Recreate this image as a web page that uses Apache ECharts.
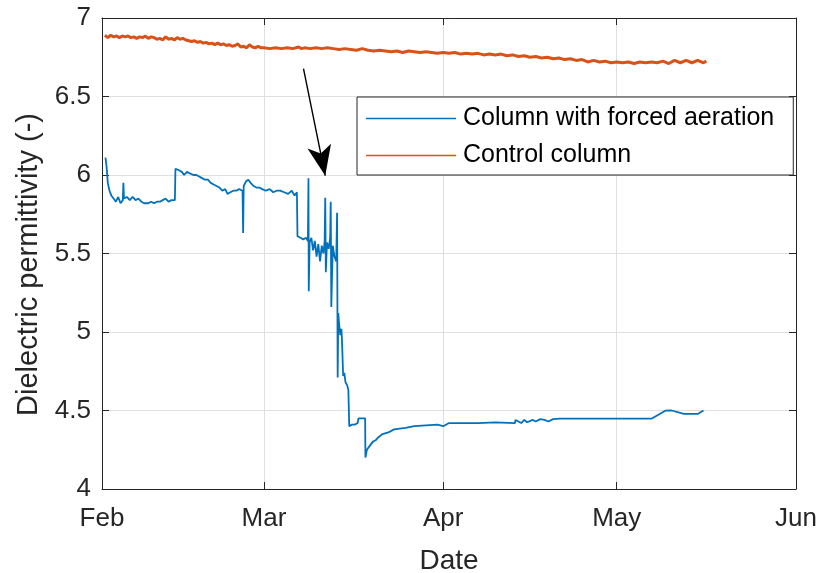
<!DOCTYPE html>
<html><head><meta charset="utf-8">
<script src="https://cdn.jsdelivr.net/npm/echarts@6/dist/echarts.min.js"></script>
<style>html,body{margin:0;padding:0;background:#fff}#c{width:821px;height:573px}</style>
</head><body><div id="c"></div>
<script>
// Days since 1 Feb (year with 28-day February)
const aeratedDays = [0.6,0.8,1.0,1.3,1.6,2.0,2.4,2.8,3.2,3.6,3.7,3.8,4.3,4.8,5.3,5.8,6.3,6.8,7.3,8.0,8.5,9.0,9.5,10.0,10.5,11.0,11.5,12.0,12.6,12.7,13.3,13.8,14.2,14.7,15.2,15.8,16.3,16.8,17.3,17.8,18.3,18.8,19.3,19.8,20.3,20.8,21.3,21.7,22.2,22.7,23.2,23.7,24.3,24.4,24.5,24.9,25.3,25.7,26.2,26.7,27.2,27.7,28.3,29.0,29.6,30.2,30.8,31.5,32.2,32.8,33.3,33.7,33.8,34.3,34.8,35.3,35.6,35.7,35.75,35.9,36.2,36.5,36.8,37.1,37.4,37.7,38.0,38.3,38.5,38.6,38.7,38.9,39.2,39.45,39.55,39.65,39.9,40.2,40.5,40.65,40.75,40.85,41.0,41.2,41.4,41.5,41.7,41.9,42.1,42.4,42.6,42.75,43.2,43.7,44.2,44.35,45.0,45.5,45.55,45.8,46.2,46.8,47.3,47.8,48.5,49.5,50.5,51.5,52.5,54,56,58,59,60,62,65,68,71.4,71.5,72.5,73,73.5,74.5,75,75.8,76.5,77.2,78,79.2,80,83,86,89,92,95,97.4,97.5,98.5,100.6,100.7,103,104,104.5];
const aeratedVals = [6.11,6.05,5.95,5.90,5.87,5.85,5.83,5.86,5.82,5.84,5.95,5.85,5.86,5.84,5.86,5.84,5.85,5.83,5.82,5.82,5.83,5.82,5.83,5.83,5.84,5.85,5.83,5.84,5.84,6.04,6.03,6.02,6.00,6.02,6.01,6.00,6.00,5.99,5.98,5.97,5.97,5.95,5.94,5.93,5.92,5.90,5.91,5.88,5.89,5.90,5.90,5.91,5.90,5.63,5.93,5.96,5.97,5.95,5.93,5.92,5.92,5.91,5.90,5.91,5.89,5.90,5.90,5.89,5.88,5.90,5.87,5.89,5.61,5.60,5.59,5.60,5.58,5.98,5.26,5.57,5.60,5.52,5.58,5.48,5.56,5.45,5.55,5.50,5.58,5.855,5.38,5.57,5.53,5.60,5.83,5.16,5.55,5.48,5.45,5.76,4.71,5.12,5.05,4.98,5.02,4.94,4.72,4.74,4.68,4.66,4.63,4.40,4.41,4.41,4.42,4.45,4.45,4.45,4.20,4.25,4.27,4.30,4.31,4.33,4.35,4.36,4.38,4.385,4.39,4.40,4.405,4.41,4.40,4.42,4.42,4.42,4.425,4.42,4.44,4.42,4.44,4.425,4.44,4.43,4.445,4.44,4.43,4.445,4.448,4.448,4.448,4.448,4.448,4.448,4.448,4.499,4.50,4.50,4.478,4.478,4.478,4.50];
const controlDays = [0.5,1,1.5,2,2.5,3,3.5,4,4.5,5,5.5,6,6.5,7,7.5,8,8.5,9,9.5,10,10.5,11,11.5,12,12.5,13,13.5,14,14.5,15,15.5,16,16.5,17,17.5,18,18.5,19,19.5,20,20.5,21,21.5,22,22.5,23,23.5,24,24.5,25,25.5,26,26.5,27,27.5,28,29,30,31,32,33,34,34.5,35,36,37,38,39,40,41,42,43,44,45,46,47,48,49,50,51,52,53,54,55,56,57,58,59,60,61,62,63,64,65,66,67,68,69,70,71,72,73,74,75,76,77,78,79,80,81,82,83,84,85,86,87,88,89,90,91,92,93,94,95,96,97,98,99,100,101,102,103,104,104.5];
const controlVals = [6.89,6.875,6.89,6.88,6.885,6.875,6.885,6.88,6.885,6.875,6.88,6.87,6.88,6.875,6.885,6.87,6.88,6.875,6.865,6.87,6.86,6.88,6.865,6.87,6.86,6.875,6.865,6.87,6.86,6.855,6.85,6.855,6.845,6.85,6.84,6.845,6.835,6.84,6.83,6.84,6.83,6.835,6.825,6.83,6.82,6.825,6.835,6.815,6.82,6.81,6.83,6.815,6.81,6.82,6.81,6.81,6.805,6.81,6.805,6.81,6.805,6.815,6.805,6.81,6.805,6.81,6.805,6.81,6.805,6.80,6.805,6.80,6.795,6.805,6.795,6.79,6.795,6.79,6.785,6.79,6.78,6.79,6.785,6.78,6.785,6.78,6.775,6.78,6.775,6.78,6.77,6.775,6.77,6.775,6.765,6.77,6.765,6.77,6.76,6.765,6.755,6.76,6.75,6.755,6.745,6.75,6.74,6.745,6.735,6.74,6.73,6.735,6.72,6.73,6.72,6.725,6.715,6.72,6.715,6.72,6.71,6.72,6.715,6.72,6.715,6.725,6.71,6.73,6.715,6.73,6.715,6.73,6.715,6.725];
const monthNames = ['Jan','Feb','Mar','Apr','May','Jun','Jul','Aug','Sep','Oct','Nov','Dec'];
const yTicks = {min: 4, max: 7, step: 0.5};
const seriesNames = ['Column with forced aeration', 'Control column'];
// annotation arrow: [day, value] of tail and tip
const arrowPts = [[34.84, 6.677], [38.6, 5.996]];

const DAY = 86400000;
const t0 = new Date(2021, 1, 1).getTime();
const tEnd = new Date(2021, 5, 1).getTime();
const toT = d => t0 + d * DAY;
const blue = aeratedDays.map((d, i) => [toT(d), aeratedVals[i]]);
const orange = controlDays.map((d, i) => [toT(d), controlVals[i]]);

const axisCol = '#262626';
const font = 'Liberation Sans, Arial, Helvetica, sans-serif';
const chart = echarts.init(document.getElementById('c'), null, {renderer: 'canvas'});
const xBase = {
  type: 'time', min: t0, max: tEnd,
  minInterval: 28 * DAY, maxInterval: 31 * DAY,
};
chart.setOption({
  animation: false,
  backgroundColor: '#fff',
  grid: {left: 102, right: 25, top: 18, bottom: 84, containLabel: false, outerBoundsMode: 'none'},
  legend: {
    orient: 'vertical', left: 357, top: 97,
    icon: 'rect', itemWidth: 90, itemHeight: 1.5, itemGap: 12,
    padding: [9, 19, 7, 9],
    borderColor: axisCol, borderWidth: 1, backgroundColor: '#fff',
    textStyle: {fontFamily: font, fontSize: 25, color: '#000', padding: [0, 0, 0, 2], lineHeight: 25},
    data: seriesNames,
  },
  xAxis: [
    Object.assign({}, xBase, {
      position: 'bottom',
      name: 'Date', nameLocation: 'middle', nameGap: 58,
      nameTextStyle: {fontFamily: font, fontSize: 28, color: axisCol},
      axisLine: {lineStyle: {color: axisCol, width: 1}},
      axisTick: {inside: true, length: 7, lineStyle: {color: axisCol}},
      axisLabel: {
        margin: 17, fontFamily: font, fontSize: 26, color: axisCol,
        showMinLabel: true, showMaxLabel: true,
        formatter: v => monthNames[new Date(v).getMonth()],
      },
      splitLine: {show: true, lineStyle: {color: '#dfdfdf', width: 1}},
    }),
    Object.assign({}, xBase, {
      position: 'top',
      axisLine: {lineStyle: {color: axisCol, width: 1}},
      axisTick: {inside: true, length: 7, lineStyle: {color: axisCol}},
      axisLabel: {show: false},
      splitLine: {show: false},
    }),
  ],
  yAxis: [
    {
      type: 'value', min: yTicks.min, max: yTicks.max, interval: yTicks.step,
      position: 'left',
      name: 'Dielectric permittivity (-)', nameLocation: 'middle', nameGap: 55,
      nameTextStyle: {fontFamily: font, fontSize: 29, color: axisCol, padding: [0, 22, 0, 0]},
      axisLine: {show: true, lineStyle: {color: axisCol, width: 1}},
      axisTick: {show: true, inside: true, length: 7, lineStyle: {color: axisCol}},
      axisLabel: {margin: 11, fontFamily: font, fontSize: 26, color: axisCol},
      splitLine: {show: true, lineStyle: {color: '#dfdfdf', width: 1}},
    },
    {
      type: 'value', min: yTicks.min, max: yTicks.max, interval: yTicks.step,
      position: 'right',
      axisLine: {show: true, lineStyle: {color: axisCol, width: 1}},
      axisTick: {show: true, inside: true, length: 7, lineStyle: {color: axisCol}},
      axisLabel: {show: false},
      splitLine: {show: false},
    },
  ],
  series: [
    {
      name: seriesNames[0], type: 'line', data: blue, symbol: 'none',
      xAxisIndex: 0, yAxisIndex: 0,
      lineStyle: {color: '#0072BD', width: 1.8}, itemStyle: {color: '#0072BD'},
      z: 3,
      markLine: {
        silent: true, symbol: ['none', 'arrow'],
        label: {show: false},
        lineStyle: {color: '#000', width: 1.4, type: 'solid'},
        itemStyle: {color: '#000'},
        data: [[
          {coord: [toT(arrowPts[0][0]), arrowPts[0][1]]},
          {coord: [toT(arrowPts[1][0]), arrowPts[1][1]], symbolSize: [18, 30]},
        ]],
      },
    },
    {
      name: seriesNames[1], type: 'line', data: orange, symbol: 'none',
      xAxisIndex: 0, yAxisIndex: 0,
      lineStyle: {color: '#D95319', width: 3}, itemStyle: {color: '#D95319'},
      z: 2,
    },
  ],
});
</script></body></html>
